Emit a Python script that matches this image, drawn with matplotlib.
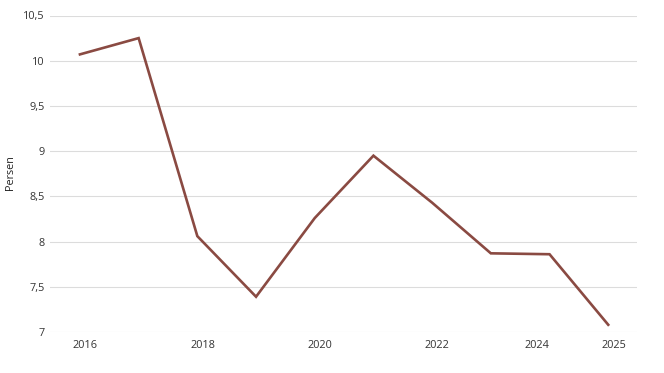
import matplotlib.pyplot as plt

years = [2016, 2017, 2018, 2019, 2020, 2021, 2022, 2023, 2024, 2025]
persen = [10.07, 10.25, 8.06, 7.39, 8.26, 8.95, 8.43, 7.87, 7.86, 7.08]
xtick_labels = ["2016", "2018", "2020", "2022", "2024", "2025"]
ytick_values = [7, 7.5, 8, 8.5, 9, 9.5, 10, 10.5]

plt.rcParams['font.family'] = ['Open Sans', 'DejaVu Sans']

fig = plt.figure(figsize=(6.64, 3.73), dpi=100)
ax = fig.add_axes([50 / 664, 1 - 332 / 373, 587 / 664, 316.5 / 373])

ax.plot(years, persen, color="#8a4a42", lw=1.9, solid_joinstyle="miter")

ax.set_xlim(2015.49, 2025.49)
ax.set_ylim(7, 10.5)

# labels sit a bit right of the points; 2024 pushed left to avoid 2025
xt = [2016.09, 2018.09, 2020.09, 2022.09, 2023.78, 2025.1]
ax.set_xticks(xt)
ax.set_xticklabels(xtick_labels)
ax.set_yticks(ytick_values)
ax.set_yticklabels([f"{v:g}".replace(".", ",") for v in ytick_values])

ax.tick_params(length=0, labelsize=7.8, colors="#333333", pad=4)
ax.tick_params(axis="x", pad=6)
ax.grid(axis="y", color="#dcdcdc", lw=0.8)
ax.set_axisbelow(True)
for s in ax.spines.values():
    s.set_visible(False)

fig.text(10 / 664, 1 - 173 / 373, "Persen", rotation=90, fontsize=7.8,
         color="#222222", ha="center", va="center")

fig.savefig("out.png", dpi=100)
